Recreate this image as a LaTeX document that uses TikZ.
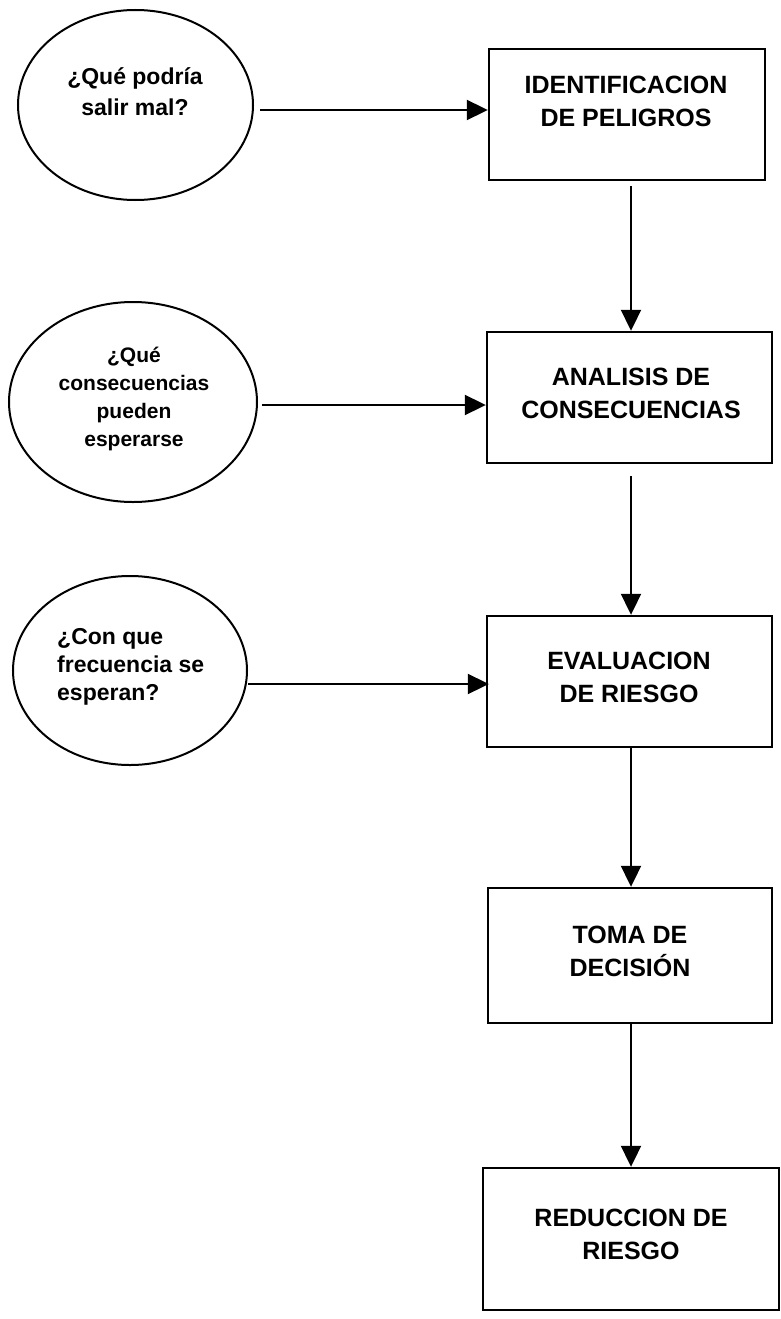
\documentclass[tikz,border=0pt]{standalone}
\usepackage{fontspec}
\setmainfont{Liberation Sans}
\usetikzlibrary{arrows.meta,shapes.geometric}
\begin{document}
\begin{tikzpicture}[x=1pt,y=-1pt,
  box/.style={draw=black, line width=2.4pt, inner sep=0pt},
  ellip/.style={draw=black, ellipse, line width=2pt, inner sep=0pt},
  boxtext/.style={font=\bfseries\fontsize{25}{33}\selectfont, align=center, inner sep=0pt},
  etext/.style={font=\bfseries\fontsize{23}{31}\selectfont, align=center, inner sep=0pt},
  arr/.style={line width=2pt, -{Triangle[length=21pt,width=20pt]}}
]
\fill[white] (0,0) rectangle (780,1319);
\useasboundingbox (0,0) rectangle (780,1319);

% boxes
\node[box, minimum width=276pt, minimum height=131pt] (b1) at (627,114.5) {};
\node[box, minimum width=285pt, minimum height=131pt] (b2) at (629.5,397.5) {};
\node[box, minimum width=285pt, minimum height=131pt] (b3) at (629.5,681.5) {};
\node[box, minimum width=284pt, minimum height=135pt] (b4) at (630,955.5) {};
\node[box, minimum width=296pt, minimum height=142pt] (b5) at (631,1239) {};

\node[boxtext] (t1) at (626,101) {IDENTIFICACION\\DE PELIGROS};
\node[boxtext] (t2) at (631,393) {ANALISIS DE\\CONSECUENCIAS};
\node[boxtext] (t3) at (629,677) {EVALUACION\\DE RIESGO};
\node[boxtext] (t4) at (630,951) {TOMA DE\\DECISIÓN};
\node[boxtext] (t5) at (631,1234) {REDUCCION DE\\RIESGO};

% ellipses
\node[ellip, minimum width=235pt, minimum height=190pt] (e1) at (135.5,105) {};
\node[ellip, minimum width=248pt, minimum height=200pt] (e2) at (133,402) {};
\node[ellip, minimum width=234pt, minimum height=189pt] (e3) at (130,670.5) {};

\node[etext] (q1) at (135,92) {¿Qué podría\\salir mal?};
\node[etext, font=\bfseries\fontsize{21}{28}\selectfont] (q2) at (134,399) {¿Qué\\consecuencias\\pueden\\esperarse};
\node[etext, font=\bfseries\fontsize{23}{28}\selectfont, align=left, anchor=west] (q3) at (57,667) {¿Con que\\frecuencia se\\esperan?};

% horizontal connectors
\draw[arr] ([shift={(6,5)}]e1.east) -- ([shift={(0,-4.5)}]b1.west);
\draw[arr] ([shift={(4,3)}]e2.east) -- ([shift={(0,7.5)}]b2.west);
\draw[arr] ([shift={(0,13.5)}]e3.east) -- ([shift={(3,2.5)}]b3.west);

% vertical connectors
\coordinate (vx) at (631,0);
\draw[arr] ([yshift=-5pt]b1.south -| vx) -- (b2.north -| vx);
\draw[arr] ([yshift=-12pt]b2.south -| vx) -- (b3.north -| vx);
\draw[arr] (b3.south -| vx) -- (b4.north -| vx);
\draw[arr] (b4.south -| vx) -- (b5.north -| vx);
\end{tikzpicture}
\end{document}
